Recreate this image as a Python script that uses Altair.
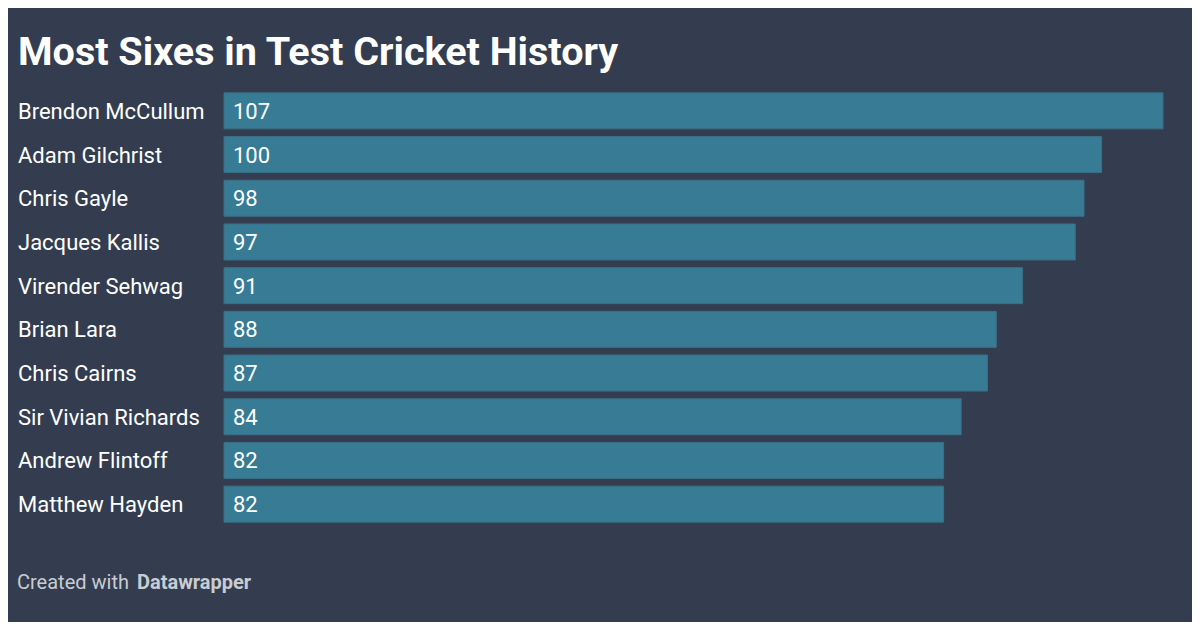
import altair as alt
import pandas as pd

players = ["Brendon McCullum", "Adam Gilchrist", "Chris Gayle", "Jacques Kallis",
           "Virender Sehwag", "Brian Lara", "Chris Cairns", "Sir Vivian Richards",
           "Andrew Flintoff", "Matthew Hayden"]
sixes = [107, 100, 98, 97, 91, 88, 87, 84, 82, 82]

df = pd.DataFrame({"player": players, "sixes": sixes})

BG = "#333d4f"
BAR = "#387b94"
FONT = "Roboto"

y = alt.Y("player:N", sort=players, axis=None,
          scale=alt.Scale(paddingInner=0.176, paddingOuter=0.088))
x = alt.X("sixes:Q", axis=None, scale=alt.Scale(domain=[0, 107], nice=False, zero=True))

bars = alt.Chart(df).mark_bar(color=BAR, stroke="#3a6f86", strokeWidth=1).encode(x=x, y=y)

values = alt.Chart(df).mark_text(align="left", baseline="middle", dx=9, dy=1,
                                 color="#ffffff", font=FONT, fontSize=22).encode(
    x=alt.value(0), y=y, text="sixes:Q")

names = alt.Chart(df).mark_text(align="left", baseline="middle", dy=1,
                                color="#ffffff", font=FONT, fontSize=22).encode(
    x=alt.value(-206), y=y, text="player:N")

title_df = pd.DataFrame({"t": ["Most Sixes in Test Cricket History"]})
title = alt.Chart(title_df).mark_text(align="left", baseline="alphabetic", color="#ffffff",
                                      font=FONT, fontSize=39.5, fontWeight="bold").encode(
    x=alt.value(-206), y=alt.value(-24), text="t:N")

foot1 = alt.Chart(pd.DataFrame({"t": ["Created with"]})).mark_text(
    align="left", baseline="alphabetic", color="#c9ccd1", font=FONT, fontSize=20).encode(
    x=alt.value(-207), y=alt.value(500), text="t:N")
foot2 = alt.Chart(pd.DataFrame({"t": ["Datawrapper"]})).mark_text(
    align="left", baseline="alphabetic", color="#c9ccd1", font=FONT, fontSize=20,
    fontWeight="bold").encode(
    x=alt.value(-87), y=alt.value(500), text="t:N")

chart = alt.layer(bars, values, names, title, foot1, foot2).properties(
    width=939, height=437,
    autosize=alt.AutoSizeParams(type="none"),
    padding={"left": 216, "top": 81, "right": 29, "bottom": 96},
    background=BG,
).configure_view(stroke=None)

chart.save("out.html", embed_options={"renderer": "svg", "actions": False})
